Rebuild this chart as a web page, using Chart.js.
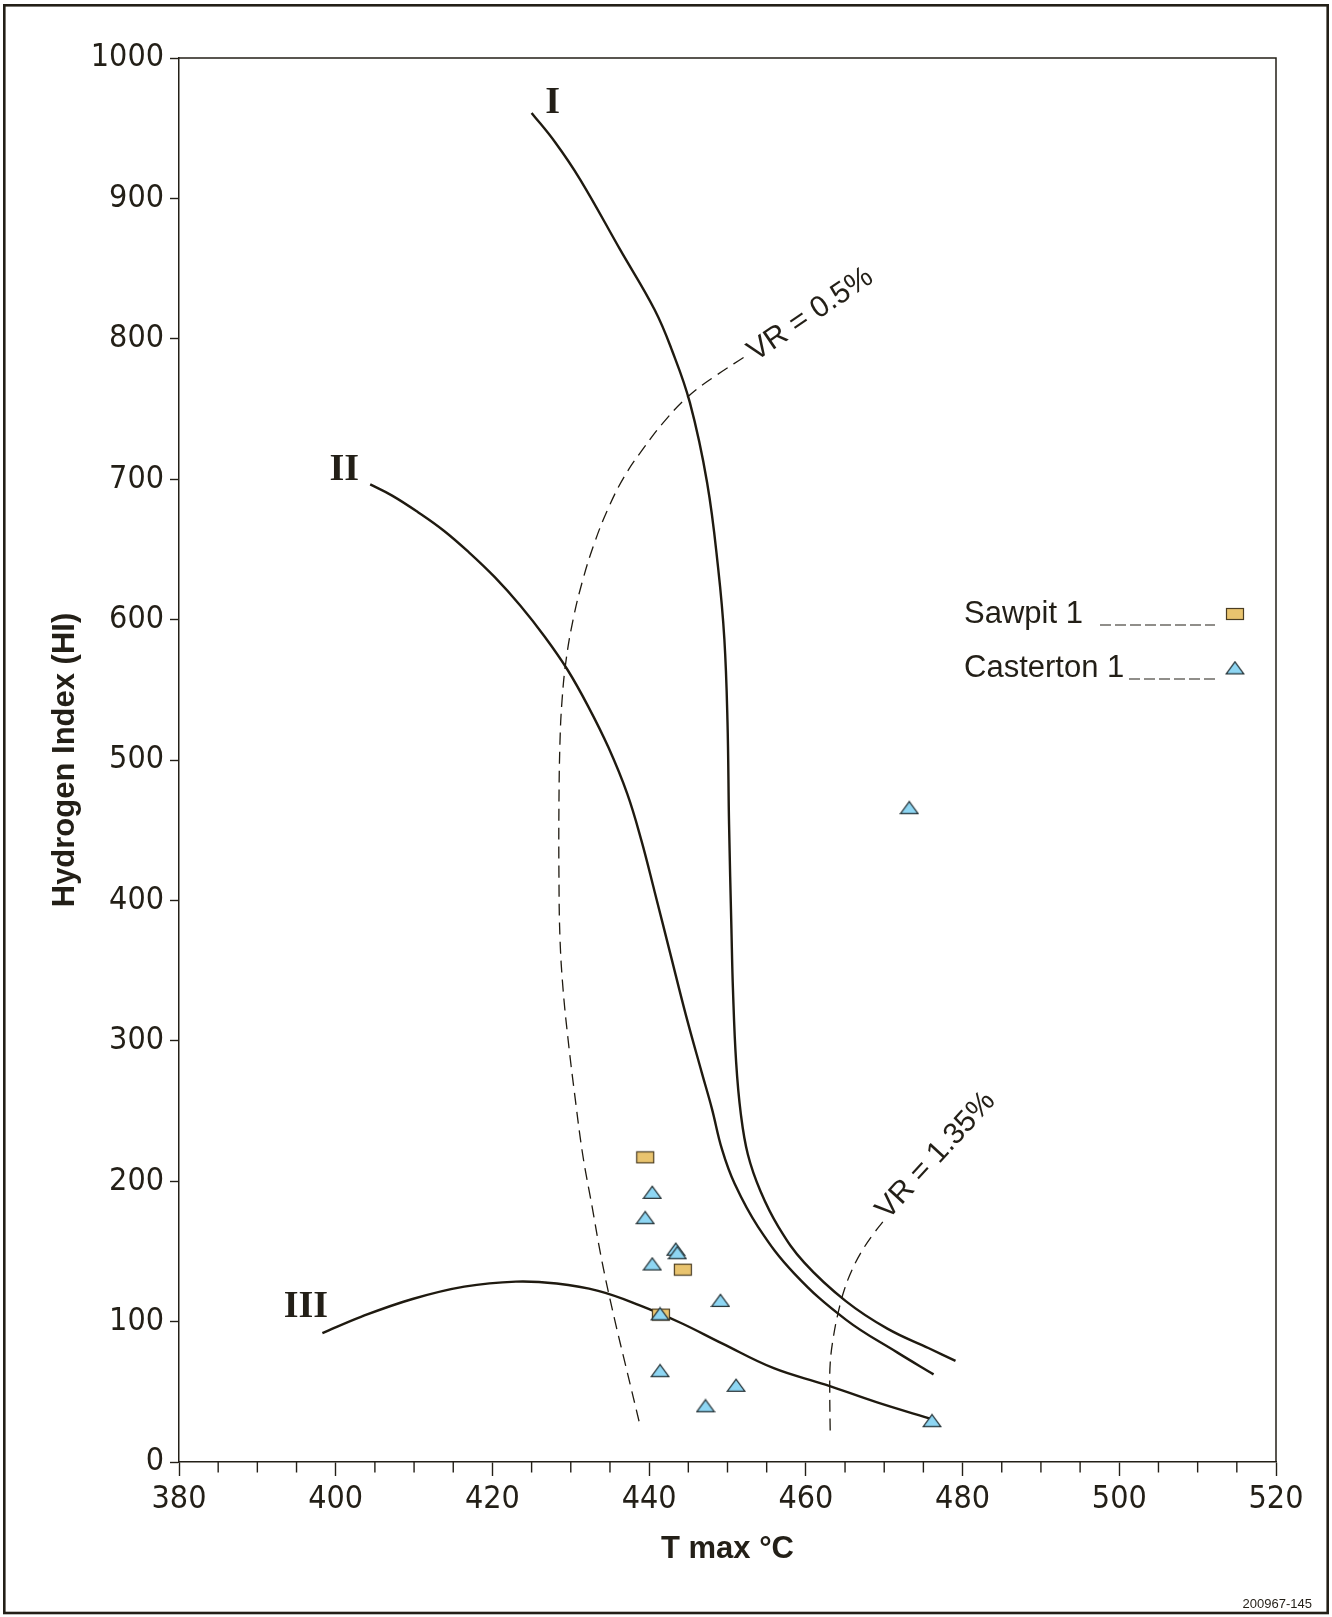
<!DOCTYPE html>
<html>
<head>
<meta charset="utf-8">
<script src="https://cdn.jsdelivr.net/npm/chart.js@4.4.1/dist/chart.umd.min.js"></script>
<style>
html,body{margin:0;padding:0;background:#fff;}
#wrap{width:1332px;height:1617px;position:relative;}
canvas{display:block;}
</style>
</head>
<body>
<div id="wrap"><canvas id="c" width="1332" height="1617"></canvas></div>
<script>
// ---------------- data ----------------
const xTicks = [380, 400, 420, 440, 460, 480, 500, 520];
const yTicks = [0, 100, 200, 300, 400, 500, 600, 700, 800, 900, 1000];

const sawpitT  = [439.5, 444.3, 441.5];
const sawpitHI = [217, 137, 105];

const castertonT  = [440.4, 439.5, 443.4, 443.6, 440.4, 449.1, 441.4, 441.4, 451.1, 447.2, 476.1, 473.2];
const castertonHI = [192, 174, 151.5, 149, 141, 115, 105.5, 65, 54.6, 40, 29.4, 466];

const typeI_T  = [425.0, 428.0, 431.2, 436.3, 440.7, 442.9, 445.2, 447.4, 448.8, 449.6, 450.0, 450.2, 450.5, 450.7, 451.1, 451.7, 452.6, 454.2, 456.5, 459.8, 465.1, 470.4, 475.7, 479.1];
const typeI_HI = [960.9, 940, 913.4, 863.5, 820.7, 792, 754.5, 697.5, 637, 586, 527, 454, 380, 336, 285, 248, 219, 193, 167.5, 142, 114.6, 95, 81, 72];

const typeII_T  = [404.4, 407.2, 410.5, 413.8, 417.0, 420.3, 423.6, 426.7, 429.6, 432.2, 434.8, 437.2, 439.0, 440.7, 442.7, 444.7, 446.7, 448.0, 449.3, 450.9, 453.9, 458.5, 465.1, 471.7, 476.3];
const typeII_HI = [696.3, 688.3, 676.5, 663.3, 647.9, 630.2, 609.7, 587.6, 564.1, 538.4, 509.0, 476.0, 442.9, 406.2, 362.1, 318.1, 277.7, 251.9, 222.6, 198.3, 167.5, 134.4, 101.4, 77.9, 62.4];

const typeIII_T  = [398.3, 403.3, 409.8, 416.4, 423.0, 428.2, 433.5, 438.8, 444.0, 449.3, 455.9, 462.5, 469.0, 476.3];
const typeIII_HI = [91.8, 103.6, 116.1, 124.9, 128.5, 127.1, 121.9, 111.6, 99.2, 84.5, 66.8, 55.1, 42.6, 30.1];

const vr05_T  = [452.05, 448.63, 445.08, 442.05, 439.29, 436.79, 434.68, 432.97, 431.52, 430.33, 429.41, 428.88, 428.62, 428.49, 428.49, 428.62, 429.02, 429.68, 430.47, 431.52, 432.71, 434.02, 435.60, 437.18, 438.76];
const vr05_HI = [786.7, 774.2, 759.5, 741.9, 722.1, 701.5, 678.0, 653.8, 628.0, 600.9, 571.5, 542.2, 512.8, 468.7, 417.3, 373.2, 336.4, 299.7, 263.0, 219.0, 182.2, 141.8, 101.4, 64.6, 27.9];

const vr135_T  = [469.82, 468.51, 467.19, 466.00, 464.95, 464.16, 463.51, 463.11, 463.05, 463.11];
const vr135_HI = [171.1, 161.6, 150.6, 138.1, 123.4, 107.3, 88.9, 70.5, 49.9, 20.6];

const curveLabels   = ['I', 'II', 'III'];
const curveLabelT   = [427.7, 401.1, 396.2];
const curveLabelHI  = [967.5, 706.7, 110.4];

const vrLabels  = ['VR = 0.5%', 'VR = 1.35%'];
const vrLabelT  = [460.6, 476.6];
const vrLabelHI = [817.2, 218.2];

// ---------------- styling helpers ----------------
const FG = '#231f17';
function fontAvailable(f) {
  const c = document.createElement('canvas').getContext('2d');
  const s = 'abcdefghijklmnopqrstuvwxyz0123456789';
  c.font = '40px "' + f + '", monospace'; const a = c.measureText(s).width;
  c.font = '40px monospace'; const b = c.measureText(s).width;
  c.font = '40px "' + f + '", serif'; const d = c.measureText(s).width;
  c.font = '40px serif'; const e = c.measureText(s).width;
  return a !== b && d !== e;
}
let NARROW = '"Liberation Sans", Arial, sans-serif', NSIZE = 30;
const narrowCands = [['Liberation Sans Narrow', 34], ['DejaVu Sans Condensed', 32], ['Arial Narrow', 34]];
for (const [f, sz] of narrowCands) {
  if (fontAvailable(f)) { NARROW = '"' + f + '", sans-serif'; NSIZE = sz; break; }
}
const SANS = '"Liberation Sans", Arial, Helvetica, sans-serif';
const SERIF = '"Liberation Serif", "Times New Roman", serif';

function makeRect() {
  const c = document.createElement('canvas'); c.width = 20; c.height = 14;
  const g = c.getContext('2d');
  g.fillStyle = '#E9C46F'; g.fillRect(1, 1, 18, 12);
  g.strokeStyle = '#4b3d22'; g.lineWidth = 1.2; g.strokeRect(1.5, 1.5, 17, 11);
  return c;
}
function makeTri() {
  const c = document.createElement('canvas'); c.width = 20; c.height = 15;
  const g = c.getContext('2d');
  g.beginPath(); g.moveTo(10, 1.3); g.lineTo(18.8, 13.4); g.lineTo(1.2, 13.4); g.closePath();
  g.fillStyle = '#8ED6F3'; g.fill();
  g.strokeStyle = '#253236'; g.lineWidth = 1.2; g.stroke();
  return c;
}
const RECT = makeRect(), TRI = makeTri();

function pts(xs, ys) { return xs.map((x, i) => ({x: x, y: ys[i]})); }
function curve(label, xs, ys, dashed) {
  return {
    label: label, data: pts(xs, ys), showLine: true, pointRadius: 0, pointHoverRadius: 0,
    borderColor: '#1f1a10', borderWidth: dashed ? 1.3 : 2.4, borderDash: dashed ? [12, 7] : [],
    tension: 0.4, fill: false
  };
}

const decor = {
  id: 'decor',
  beforeDraw(chart) {
    const ctx = chart.ctx; ctx.save(); ctx.fillStyle = '#fff';
    ctx.fillRect(0, 0, chart.width, chart.height); ctx.restore();
  },
  afterDraw(chart) {
    const ctx = chart.ctx, ca = chart.chartArea, xs = chart.scales.x, ys = chart.scales.y;
    ctx.save();
    ctx.strokeStyle = FG; ctx.lineWidth = 1.5;
    ctx.beginPath();
    ctx.moveTo(ca.left, ca.top); ctx.lineTo(ca.right, ca.top); ctx.lineTo(ca.right, ca.bottom);
    ctx.stroke();
    // minor ticks on x axis
    ctx.lineWidth = 1.4; ctx.beginPath();
    for (let v = xTicks[0] + 5; v < xTicks[xTicks.length - 1]; v += 5) {
      if (xTicks.includes(v)) continue;
      const px = xs.getPixelForValue(v);
      ctx.moveTo(px, ca.bottom); ctx.lineTo(px, ca.bottom + 10.5);
    }
    ctx.stroke();
    // outer frame
    ctx.lineWidth = 2.6;
    ctx.strokeRect(4.3, 5.3, 1323.4, 1607.7);
    // curve labels
    ctx.fillStyle = FG; ctx.textAlign = 'center'; ctx.textBaseline = 'middle';
    ctx.font = 'bold 38px ' + SERIF;
    curveLabels.forEach((t, i) => ctx.fillText(t, xs.getPixelForValue(curveLabelT[i]), ys.getPixelForValue(curveLabelHI[i])));
    // VR labels
    const ang = [-34, -47.5];
    ctx.font = '30px ' + SANS;
    vrLabels.forEach((t, i) => {
      ctx.save();
      ctx.translate(xs.getPixelForValue(vrLabelT[i]), ys.getPixelForValue(vrLabelHI[i]));
      ctx.rotate(ang[i] * Math.PI / 180);
      ctx.fillText(t, 0, 0);
      ctx.restore();
    });
    // legend
    const entries = [
      {ds: chart.data.datasets[1], img: RECT, y: 614, lead: 1100},
      {ds: chart.data.datasets[0], img: TRI, y: 668, lead: 1129}
    ];
    ctx.font = '31px ' + SANS; ctx.textAlign = 'left';
    entries.forEach(e => {
      ctx.fillText(e.ds.label, 964, e.y);
      ctx.save(); ctx.setLineDash([11, 4]); ctx.lineWidth = 1.2;
      ctx.beginPath(); ctx.moveTo(e.lead, e.y + 11); ctx.lineTo(1215, e.y + 11); ctx.stroke();
      ctx.restore();
      ctx.drawImage(e.img, 1235 - e.img.width / 2, e.y - e.img.height / 2);
    });
    // footnote
    ctx.font = '13px ' + SANS; ctx.textAlign = 'right';
    ctx.fillText('200967-145', 1312, 1604);
    ctx.restore();
  }
};

new Chart(document.getElementById('c'), {
  type: 'scatter',
  data: {
    datasets: [
      {label: 'Casterton 1', data: pts(castertonT, castertonHI), pointStyle: TRI, pointRadius: 6, pointHoverRadius: 6, showLine: false},
      {label: 'Sawpit 1', data: pts(sawpitT, sawpitHI), pointStyle: RECT, pointRadius: 6, pointHoverRadius: 6, showLine: false},
      curve('I', typeI_T, typeI_HI, false),
      curve('II', typeII_T, typeII_HI, false),
      curve('III', typeIII_T, typeIII_HI, false),
      curve('VR = 0.5%', vr05_T, vr05_HI, true),
      curve('VR = 1.35%', vr135_T, vr135_HI, true)
    ]
  },
  options: {
    responsive: false, animation: false, devicePixelRatio: 1,
    layout: {padding: {left: 0, right: 56, top: 58, bottom: 0}},
    plugins: {legend: {display: false}, tooltip: {enabled: false}},
    scales: {
      x: {
        type: 'linear', min: xTicks[0], max: xTicks[xTicks.length - 1],
        afterFit(s) { s.height = 155; },
        afterBuildTicks(s) { s.ticks = xTicks.map(v => ({value: v})); },
        ticks: {color: FG, font: {family: NARROW, size: NSIZE}, padding: 4, maxRotation: 0, autoSkip: false, callback: v => String(v)},
        grid: {drawOnChartArea: false, drawTicks: true, tickLength: 14, tickColor: FG, tickWidth: 1.4},
        border: {display: true, color: FG, width: 1.5},
        title: {display: true, text: 'T max °C', color: FG, font: {family: SANS, size: 31, weight: 'bold'}, padding: {top: 0, bottom: 49}}
      },
      y: {
        type: 'linear', min: yTicks[0], max: yTicks[yTicks.length - 1],
        afterFit(s) { s.width = 179; },
        afterBuildTicks(s) { s.ticks = yTicks.map(v => ({value: v})); },
        ticks: {color: FG, font: {family: NARROW, size: NSIZE}, padding: 6, autoSkip: false, callback: v => String(v)},
        grid: {drawOnChartArea: false, drawTicks: true, tickLength: 9, tickColor: FG, tickWidth: 1.4},
        border: {display: true, color: FG, width: 1.5},
        title: {display: true, text: 'Hydrogen Index (HI)', color: FG, font: {family: SANS, size: 31, weight: 'bold'}, padding: {top: 47, bottom: 0}}
      }
    }
  },
  plugins: [decor]
});
</script>
</body>
</html>
